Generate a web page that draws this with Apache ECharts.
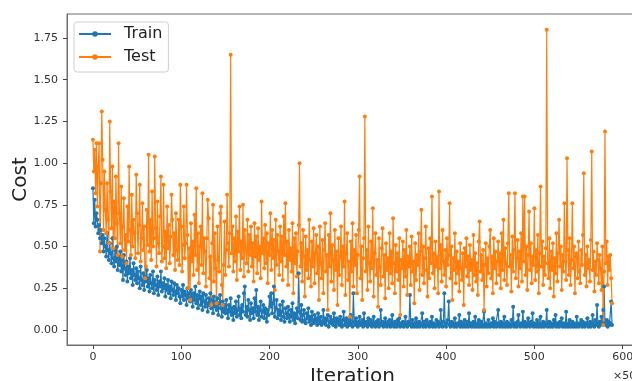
<!DOCTYPE html>
<html>
<head>
<meta charset="utf-8">
<script src="https://cdn.jsdelivr.net/npm/echarts@6/dist/echarts.min.js"></script>
<style>
  html, body { margin: 0; padding: 0; background: #fff; }
  #costChart { width: 632px; height: 381px; }
</style>
</head>
<body>
<div id="costChart"></div>
<script>
// cost per x step (x in units of 50 iterations)
const trainCost = [
  .85, .64, .78, .62, .70, .66, .58, .63, .55, .60,
  .52, .57, .47, .55, .50, .44, .58, .48, .42, .52,
  .46, .40, .55, .43, .38, .48, .41, .50, .36, .44,
  .39, .47, .35, .42, .30, .45, .37, .33, .41, .29,
  .38, .34, .43, .31, .36, .27, .40, .33, .30, .37,
  .28, .35, .31, .25, .38, .30, .27, .34, .24, .32,
  .29, .36, .26, .31, .23, .33, .28, .25, .35, .22,
  .30, .27, .24, .32, .21, .29, .26, .35, .23, .28,
  .25, .31, .20, .27, .24, .30, .22, .26, .19, .29,
  .24, .21, .28, .23, .18, .27, .22, .25, .20, .16,
  .24, .20, .27, .18, .23, .21, .15, .25, .19, .22,
  .17, .24, .20, .14, .22, .18, .26, .16, .21, .13,
  .19, .23, .15, .20, .12, .22, .17, .14, .21, .16,
  .11, .19, .15, .22, .13, .18, .10, .20, .14, .17,
  .12, .19, .09, .16, .21, .13, .08, .17, .11, .15,
  .10, .18, .12, .07, .15, .11, .19, .09, .13, .06,
  .14, .10, .17, .08, .12, .20, .09, .13, .07, .15,
  .11, .22, .26, .09, .14, .08, .18, .12, .06, .16,
  .10, .13, .07, .19, .11, .24, .09, .14, .06, .12,
  .17, .08, .11, .15, .07, .13, .10, .05, .12, .09,
  .20, .14, .22, .10, .16, .26, .08, .13, .18, .07,
  .12, .09, .15, .06, .11, .17, .08, .05, .13, .10,
  .07, .14, .09, .05, .12, .08, .16, .06, .10, .04,
  .09, .13, .07, .34, .11, .06, .15, .05, .09, .12,
  .06, .04, .10, .07, .13, .05, .08, .03, .11, .06,
  .04, .09, .05, .07, .03, .10, .06, .04, .08, .03,
  .05, .12, .04, .07, .03, .06, .09, .02, .05, .08,
  .04, .06, .03, .10, .05, .02, .07, .04, .06, .03,
  .08, .04, .02, .06, .11, .03, .05, .07, .02, .04,
  .06, .03, .09, .04, .02, .22, .05, .03, .07, .04,
  .02, .05, .08, .03, .04, .06, .02, .10, .04, .03,
  .05, .02, .07, .04, .03, .06, .02, .04, .08, .03,
  .02, .05, .03, .06, .02, .04, .12, .03, .05, .02,
  .04, .07, .03, .02, .05, .03, .06, .02, .04, .09,
  .03, .02, .05, .04, .02, .06, .03, .07, .02, .04,
  .03, .05, .02, .04, .08, .03, .02, .05, .03, .21,
  .04, .02, .06, .03, .02, .04, .07, .02, .03, .05,
  .02, .04, .03, .10, .02, .05, .03, .02, .06, .03,
  .04, .02, .05, .03, .08, .02, .04, .03, .02, .06,
  .03, .05, .02, .04, .12, .03, .02, .05, .22, .03,
  .02, .04, .06, .17, .03, .02, .05, .03, .04, .02,
  .07, .03, .02, .04, .03, .09, .02, .05, .03, .02,
  .04, .06, .02, .03, .05, .02, .10, .03, .04, .02,
  .03, .05, .02, .08, .03, .02, .04, .06, .02, .03,
  .05, .02, .03, .11, .02, .04, .03, .02, .06, .03,
  .02, .04, .03, .07, .02, .05, .03, .02, .04, .12,
  .03, .02, .05, .03, .02, .04, .08, .02, .03, .05,
  .02, .04, .03, .02, .06, .03, .14, .02, .04, .03,
  .02, .05, .09, .03, .02, .04, .03, .11, .02, .05,
  .03, .02, .04, .07, .03, .02, .05, .03, .10, .02,
  .04, .03, .02, .06, .03, .02, .04, .08, .02, .03,
  .05, .02, .03, .04, .12, .02, .03, .05, .02, .04,
  .03, .02, .06, .03, .09, .02, .04, .03, .02, .05,
  .03, .07, .02, .04, .03, .02, .11, .03, .02, .04,
  .06, .02, .03, .05, .02, .04, .03, .02, .08, .03,
  .02, .04, .03, .06, .02, .05, .03, .02, .04, .03,
  .07, .02, .03, .05, .02, .04, .09, .03, .02, .06,
  .03, .15, .04, .02, .05, .03, .08, .04, .12, .26,
  .04, .03, .06, .02, .05, .03, .04, .17, .03
]

const testCost = [
  1.14, .95, 1.08, .82, 1.12, .74, .98, 1.12, .47, .88,
  1.31, 1.02, .60, .95, .72, .58, .88, .66, .52, 1.25,
  .83, .61, .98, .49, .77, .55, .92, .64, .45, 1.12,
  .70, .52, .86, .44, .62, .79, .48, .57, .40, .74,
  .53, .98, .60, .45, .81, .50, .66, .58, .43, .93,
  .70, .46, .63, .87, .41, .55, .76, .48, .62, .31,
  .38, .72, .51, 1.05, .47, .66, .42, .83, .50, .55,
  1.04, .61, .38, .77, .52, .46, .68, .92, .41, .50,
  .87, .43, .59, .37, .74, .49, .63, .40, .56, .81,
  .66, .45, .58, .36, .70, .48, .42, .66, .39, .87,
  .62, .35, .51, .74, .43, .52, .87, .57, .25, .49,
  .18, .64, .41, .53, .33, .69, .45, .85, .36, .58,
  .28, .50, .62, .39, .82, .34, .55, .47, .26, .55,
  .78, .67, .31, .44, .15, .52, .75, .29, .58, .37,
  .16, .62, .42, .35, .70, .74, .27, .15, .39, .65,
  .33, .48, .81, .52, .38, .58, 1.65, .46, .62, .35,
  .55, .41, .68, .30, .59, .47, .74, .36, .53, .43,
  .75, .32, .60, .48, .40, .66, .35, .57, .45, .62,
  .38, .52, .29, .64, .44, .56, .34, .61, .42, .50,
  .31, .77, .46, .55, .37, .63, .40, .58, .28, .52,
  .45, .70, .36, .60, .43, .54, .24, .66, .39, .57,
  .47, .33, .62, .41, .56, .30, .68, .45, .76, .38,
  .53, .27, .60, .42, .49, .35, .64, .22, .55, .40,
  .58, .32, .47, .63, 1.00, .38, .52, .29, .60, .44,
  .20, .56, .36, .48, .31, .66, .42, .26, .53, .38,
  .61, .28, .46, .57, .34, .50, .18, .62, .40, .31,
  .54, .22, .48, .64, .35, .45, .12, .57, .38, .70,
  .29, .51, .42, .24, .60, .36, .47, .15, .55, .33,
  .44, .62, .27, .50, .38, .77, .21, .46, .58, .30,
  .41, .08, .53, .35, .64, .26, .48, .39, .57, .22,
  .45, .60, .92, .31, .50, .18, .43, .55, 1.28, .35,
  .48, .24, .62, .40, .29, .53, .37, .73, .20, .46,
  .58, .33, .42, .14, .55, .38, .27, .49, .61, .32,
  .45, .19, .52, .36, .43, .25, .58, .34, .47, .28,
  .67, .40, .22, .51, .35, .46, .30, .55, .09, .42,
  .37, .53, .26, .48, .32, .60, .21, .44, .38, .50,
  .27, .56, .35, .41, .16, .52, .30, .45, .39, .58,
  .24, .47, .72, .33, .50, .28, .43, .62, .36, .20,
  .49, .31, .55, .40, .80, .34, .46, .25, .53, .38,
  .44, .22, .83, .37, .51, .29, .60, .41, .33, .48,
  .26, .55, .39, .45, .76, .31, .50, .18, .43, .36,
  .58, .28, .47, .34, .41, .23, .52, .37, .30, .46,
  .15, .49, .38, .55, .32, .44, .27, .51, .36, .42,
  .24, .57, .33, .46, .29, .40, .21, .53, .65, .35,
  .45, .30, .48, .12, .39, .52, .26, .43, .34, .50,
  .60, .31, .44, .22, .55, .37, .47, .28, .41, .53,
  .33, .46, .25, .58, .36, .66, .30, .49, .40, .27,
  .52, .82, .38, .45, .23, .56, .35, .48, .82, .31,
  .43, .54, .26, .47, .37, .58, .29, .80, .41, .80,
  .33, .50, .24, .45, .71, .36, .52, .28, .44, .39,
  .73, .30, .48, .35, .57, .22, .46, .86, .38, .53,
  .27, .44, .33, .49, 1.80, .40, .31, .55, .25, .47,
  .36, .52, .20, .43, .34, .58, .29, .46, .66, .38,
  .50, .24, .45, .35, .76, .41, .30, 1.03, .48, .33,
  .55, .27, .42, .76, .37, .50, .22, .44, .46, .31,
  .53, .35, .28, .48, .39, .57, .94, .33, .45, .26,
  .50, .37, .42, .29, .54, 1.07, .36, .47, .23, .41,
  .33, .52, .42, .28, .45, .37, .24, .50, .03, .35,
  1.19, .40, .53, .27, .44, .36, .45, .31, .16
]

const xTicks = [0, 100, 200, 300, 400, 500, 600]
const yTicks = [0, 0.25, 0.5, 0.75, 1.0, 1.25, 1.5, 1.75]

const FONT = 'DejaVu Sans'
const SPINE = '#6e6e6e'

const toPoints = (ary) => ary.map((v, i) => [i, v])

const chart = echarts.init(document.getElementById('costChart'), null, { renderer: 'canvas' })

const option = {
  animation: false,
  grid: {
    left: 67, top: 14, right: -6, bottom: 36,
    outerBoundsMode: 'none',
    containLabel: false,
    show: true, borderColor: SPINE, borderWidth: 1,
    backgroundColor: 'transparent',
  },
  legend: {
    orient: 'vertical',
    left: 74, top: 22,
    padding: [3, 6, 6, 4],
    itemWidth: 32, itemHeight: 7, itemGap: 5,
    borderColor: '#d0d0d0', borderWidth: 1, borderRadius: 3,
    backgroundColor: 'rgba(255,255,255,0.85)',
    textStyle: { fontFamily: FONT, fontSize: 16, color: '#222', lineHeight: 18, padding: [0, 0, 0, 8] },
    data: ['Train', 'Test'],
  },
  xAxis: {
    type: 'value',
    min: -29.4, max: 617.4,
    name: 'Iteration',
    nameLocation: 'middle',
    nameGap: 22,
    nameMoveOverlap: false,
    nameTextStyle: { fontFamily: FONT, fontSize: 20, color: '#222' },
    splitLine: { show: false },
    axisLine: { onZero: false, lineStyle: { color: SPINE, width: 1 } },
    axisTick: { customValues: xTicks, length: 4, lineStyle: { color: '#444' } },
    axisLabel: {
      customValues: xTicks, margin: 7,
      fontFamily: FONT, fontSize: 11, color: '#333',
    },
  },
  yAxis: {
    type: 'value',
    min: -0.09, max: 1.894,
    name: 'Cost',
    nameLocation: 'middle',
    nameRotate: 90,
    nameGap: 36,
    nameMoveOverlap: false,
    nameTextStyle: { fontFamily: FONT, fontSize: 20, color: '#222' },
    splitLine: { show: false },
    axisLine: { show: true, onZero: false, lineStyle: { color: SPINE, width: 1 } },
    axisTick: { show: true, customValues: yTicks, length: 4, lineStyle: { color: '#444' } },
    axisLabel: {
      customValues: yTicks, margin: 9,
      fontFamily: FONT, fontSize: 11, color: '#333',
      formatter: (v) => v.toFixed(2),
    },
  },
  graphic: [
    {
      type: 'text', left: 613, top: 371,
      style: { text: '×50', font: '11px "DejaVu Sans"', fill: '#333' },
    },
  ],
  series: [
    {
      name: 'Train',
      type: 'line',
      data: toPoints(trainCost),
      symbol: 'circle', symbolSize: 4,
      showAllSymbol: true,
      itemStyle: { color: '#1f77b4' },
      lineStyle: { width: 1.2, color: '#1f77b4' },
      emphasis: { disabled: true },
    },
    {
      name: 'Test',
      type: 'line',
      data: toPoints(testCost),
      symbol: 'circle', symbolSize: 4,
      showAllSymbol: true,
      itemStyle: { color: '#ff7f0e' },
      lineStyle: { width: 1.2, color: '#ff7f0e' },
      emphasis: { disabled: true },
    },
  ],
}

chart.setOption(option)
</script>
</body>
</html>
